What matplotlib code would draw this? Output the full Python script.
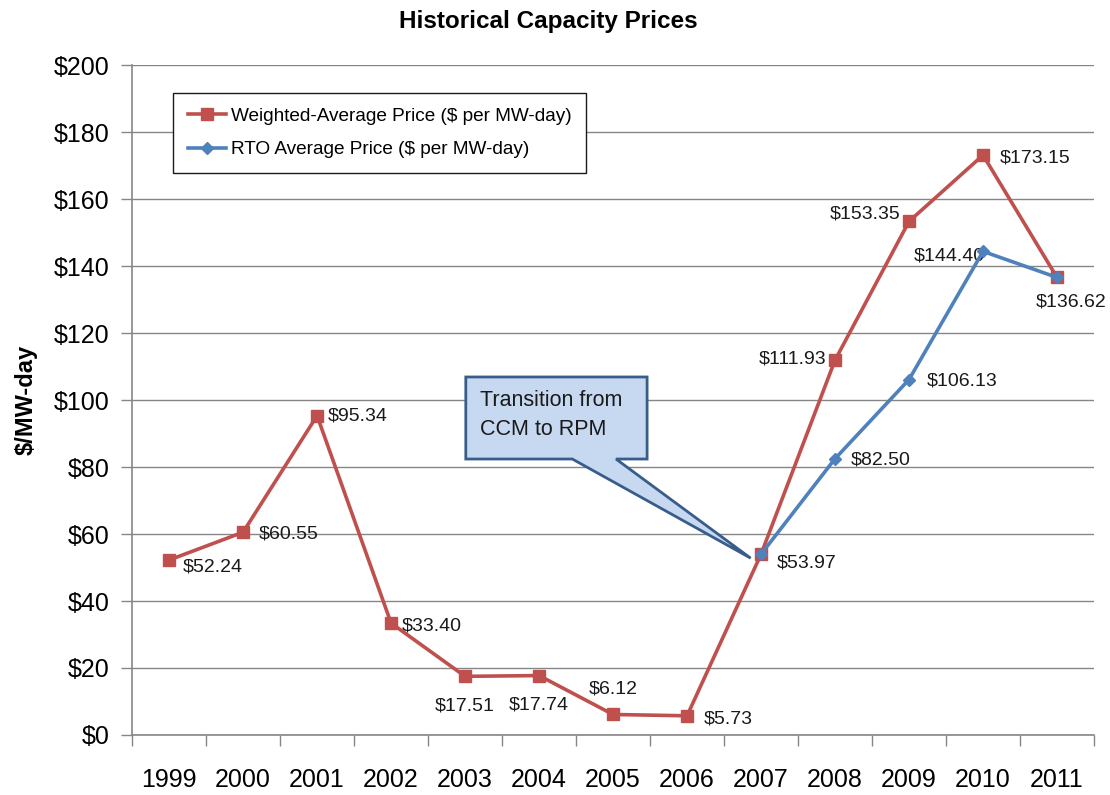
import numpy as np
import matplotlib
matplotlib.use("Agg")
from matplotlib import pyplot as plt
from matplotlib.patches import Polygon
from matplotlib.ticker import FixedLocator

plt.rcParams["font.family"] = ["Liberation Sans", "DejaVu Sans"]

years = ["1999", "2000", "2001", "2002", "2003", "2004", "2005",
         "2006", "2007", "2008", "2009", "2010", "2011"]
weighted = [52.24, 60.55, 95.34, 33.40, 17.51, 17.74, 6.12,
            5.73, 53.97, 111.93, 153.35, 173.15, 136.62]
rto_years = ["2007", "2008", "2009", "2010", "2011"]
rto = [53.97, 82.50, 106.13, 144.40, 136.62]
y_ticks = [0, 20, 40, 60, 80, 100, 120, 140, 160, 180, 200]

red = "#c0504d"
blue = "#4f81bd"
grid_c = "#868686"
txt_c = "#1a1a1a"

fig = plt.figure(figsize=(11.1, 7.95), dpi=100)
ax = fig.add_axes([0.119, 0.0755, 0.8666, 0.8425])

x = np.arange(len(years))
x_rto = np.array([years.index(y) for y in rto_years])

ax.plot(x, weighted, color=red, lw=2.6, marker="s", ms=9,
        label="Weighted-Average Price ($ per MW-day)", zorder=3)
ax.plot(x_rto, rto, color=blue, lw=2.6, marker="D", ms=6,
        label="RTO Average Price ($ per MW-day)", zorder=4)

# data labels: (dx, dy) in points, alignment
w_pos = [(10, -5, "left"), (11, -1, "left"), (8, 0, "left"), (8, -2, "left"),
         (0, -21, "center"), (0, -21, "center"), (0, 18, "center"),
         (12, -2, "left"), (11, -6, "left"), (-6, 1, "right"),
         (-6, 5, "right"), (12, -2, "left"), (10, -18, "center")]
for xi, v, (dx, dy, ha) in zip(x, weighted, w_pos):
    ax.annotate(f"${v:.2f}", (xi, v), xytext=(dx, dy), textcoords="offset points",
                ha=ha, va="center", fontsize=14, color=txt_c)
r_pos = [(11, -1, "left"), (13, -1, "left")]
for xi, v, (dx, dy, ha) in zip(x_rto[1:3], rto[1:3], r_pos):
    ax.annotate(f"${v:.2f}", (xi, v), xytext=(dx, dy), textcoords="offset points",
                ha=ha, va="center", fontsize=14, color=txt_c)
ax.annotate(f"${rto[3]:.2f}", (x_rto[3], rto[3]), xytext=(1, -3), textcoords="offset points",
            ha="right", va="center", fontsize=14, color=txt_c)

# callout
box_l, box_r, box_b, box_t = 4.01, 6.46, 82.4, 106.9
tip = (7.86, 52.8)
callout = Polygon([(box_l, box_t), (box_r, box_t), (box_r, box_b), (6.04, box_b),
                   tip, (5.45, box_b), (box_l, box_b)], closed=True,
                  facecolor="#c6d9f1", edgecolor="#385d8a", lw=2, zorder=5)
ax.add_patch(callout)
ax.text(box_l + 0.19, box_t - 3.8, "Transition from\nCCM to RPM", ha="left", va="top",
        fontsize=15.5, color=txt_c, zorder=6, linespacing=1.5)

ax.set_xlim(-0.5, len(years) - 0.5)
ax.set_ylim(0, 200)
ax.set_yticks(y_ticks)
ax.set_yticklabels([f"${t}" for t in y_ticks], fontsize=18)
ax.set_xticks(x)
ax.set_xticklabels(years, fontsize=18)
ax.xaxis.set_minor_locator(FixedLocator(np.arange(-0.5, len(years), 1.0)))
ax.tick_params(axis="x", which="major", length=0, pad=24)
ax.tick_params(axis="x", which="minor", length=8, color=grid_c, width=1)
ax.tick_params(axis="y", length=8, color=grid_c, width=1, pad=8)
ax.grid(axis="y", color=grid_c, lw=1)
ax.set_axisbelow(True)
for s in ["top", "right"]:
    ax.spines[s].set_visible(False)
for s in ["left", "bottom"]:
    ax.spines[s].set_color(grid_c)
    ax.spines[s].set_linewidth(1.2)

ax.set_ylabel("$/MW-day", fontsize=17, fontweight="bold", labelpad=12)
fig.text(0.494, 0.973, "Historical Capacity Prices", ha="center", va="center",
         fontsize=17.5, fontweight="bold")

leg = ax.legend(loc="upper left", bbox_to_anchor=(0.043, 0.958), borderaxespad=0,
                fontsize=13.7, frameon=True, fancybox=False, edgecolor=txt_c,
                framealpha=1, handlelength=2.0, handletextpad=0.3,
                borderpad=0.75, labelspacing=0.85)
leg.get_frame().set_linewidth(1)

fig.savefig("out.png", dpi=100)
